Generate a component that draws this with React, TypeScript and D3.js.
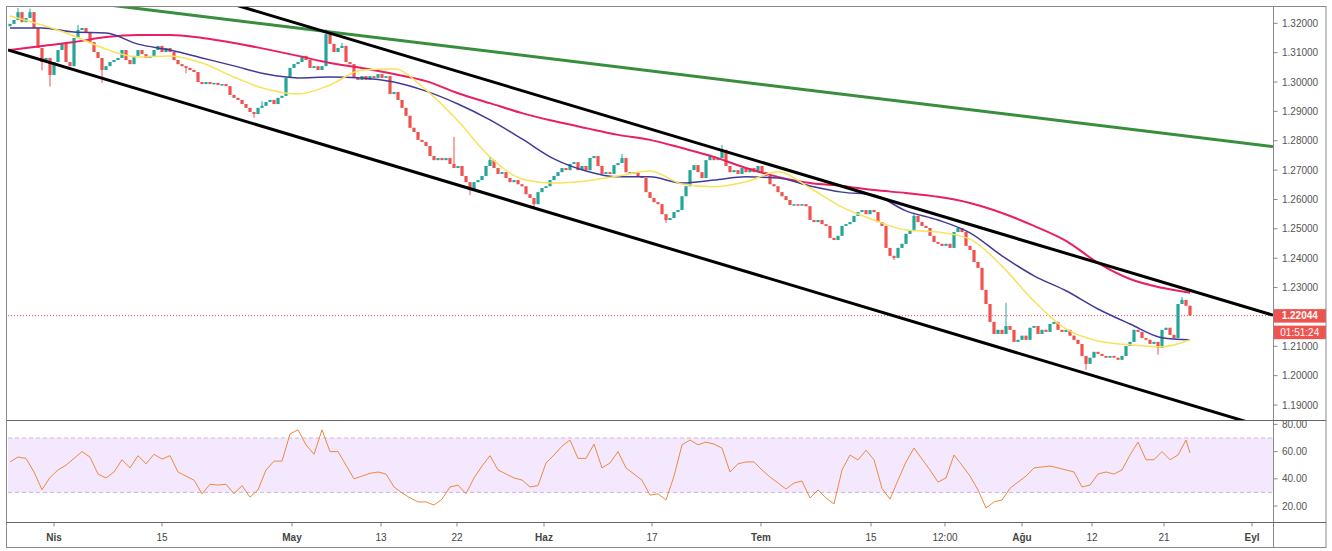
import * as d3 from 'd3'

// 4H closes, in pips (price * 10000)
const CLOSES = [
  13198, 13211, 13238, 13204, 13218, 13238, 13184, 13116, 13068, 13082,
  13024, 13068, 13109, 13130, 13068, 13054, 13150, 13177, 13184, 13170,
  13136, 13102, 13082, 13041, 13054, 13068, 13075, 13082, 13109, 13075,
  13061, 13089, 13109, 13095, 13082, 13089, 13109, 13123, 13102, 13116,
  13102, 13075, 13061, 13054, 13048, 13041, 13034, 13000, 12993, 13000,
  12993, 12997, 12990, 12993, 12986, 12956, 12946, 12939, 12925, 12912,
  12898, 12891, 12912, 12919, 12932, 12939, 12925, 12946, 12953, 13014,
  13048, 13061, 13068, 13089, 13075, 13048, 13054, 13041, 13054, 13163,
  13130, 13102, 13116, 13123, 13068, 13061, 13014, 13007, 13020, 13007,
  13020, 13014, 13027, 13014, 13020, 12959, 12966, 12939, 12912, 12885,
  12844, 12830, 12803, 12796, 12782, 12748, 12734, 12741, 12734, 12741,
  12721, 12707, 12714, 12680, 12659, 12632, 12659, 12666, 12680, 12714,
  12734, 12707, 12687, 12693, 12673, 12659, 12666, 12652, 12645, 12618,
  12605, 12584, 12625, 12639, 12645, 12666, 12680, 12693, 12707, 12700,
  12721, 12727, 12700, 12714, 12700, 12741, 12748, 12714, 12687, 12693,
  12687, 12717, 12724, 12741, 12693, 12687, 12693, 12680, 12673, 12625,
  12605, 12591, 12584, 12550, 12530, 12537, 12557, 12564, 12611, 12645,
  12700, 12717, 12693, 12673, 12734, 12748, 12734, 12741, 12769, 12714,
  12693, 12700, 12687, 12707, 12693, 12707, 12693, 12714, 12693, 12680,
  12652, 12645, 12625, 12611, 12598, 12581, 12584, 12581, 12584, 12577,
  12530, 12523, 12530, 12516, 12510, 12469, 12462, 12476, 12510, 12516,
  12523, 12544, 12557, 12564, 12550, 12564, 12557, 12523, 12510, 12435,
  12408, 12401, 12435, 12449, 12483, 12496, 12544, 12523, 12510, 12503,
  12476, 12455, 12449, 12442, 12449, 12435, 12489, 12503, 12489, 12442,
  12428, 12387, 12367, 12292, 12244, 12183, 12142, 12156, 12142, 12169,
  12156, 12115, 12122, 12136, 12122, 12163, 12169, 12142, 12156, 12149,
  12176, 12183, 12156, 12149, 12156, 12136, 12122, 12108, 12067, 12040,
  12061, 12081, 12074, 12067, 12061, 12067, 12061, 12054, 12067, 12101,
  12115, 12156, 12149, 12128, 12122, 12108, 12115, 12095, 12156, 12163,
  12139, 12128, 12244, 12258, 12238, 12204.4,
]
const FIRST_OPEN = 13190

// long wicks [bar, price in pips]
const WICK_HIGHS = [
  [2, 13252], [5, 13250], [17, 13195], [63, 12935], [79, 13180], [83, 13133],
  [111, 12813], [120, 12745], [153, 12755], [178, 12786], [226, 12555],
  [249, 12248], [293, 12268],
]
const WICK_LOWS = [
  [8, 13040], [10, 12985], [23, 12997], [44, 13030], [61, 12878], [115, 12615],
  [131, 12571], [164, 12520], [221, 12394], [269, 12020], [287, 12071],
]

// moving averages sampled every 8 bars
const MA_BARS = [
  0, 8, 16, 24, 32, 40, 48, 56, 64, 72, 80, 88, 96, 104, 112, 120, 128, 136,
  144, 152, 160, 168, 176, 184, 192, 200, 208, 216, 224, 232, 240, 248, 256,
  264, 272, 280, 288, 295,
]
const MA_FAST = [
  13225, 13194, 13157, 13112, 13085, 13089, 13065, 13017, 12976, 12959, 12990,
  13041, 13044, 12973, 12867, 12745, 12670, 12656, 12663, 12680, 12697, 12653,
  12643, 12660, 12694, 12639, 12574, 12530, 12496, 12489, 12465, 12373, 12254,
  12159, 12118, 12105, 12098, 12122,
]
const MA_MID = [
  13184, 13184, 13170, 13167, 13129, 13109, 13082, 13055, 13027, 13014, 13017,
  13014, 13000, 12969, 12925, 12871, 12806, 12738, 12697, 12677, 12677, 12656,
  12666, 12677, 12673, 12646, 12625, 12615, 12561, 12530, 12486, 12408, 12340,
  12289, 12227, 12176, 12129, 12122,
]
const MA_SLOW = [
  13109, 13123, 13136, 13153, 13160, 13160, 13150, 13133, 13112, 13089, 13065,
  13048, 13027, 13003, 12962, 12928, 12894, 12867, 12843, 12820, 12803, 12775,
  12745, 12707, 12677, 12656, 12646, 12632, 12622, 12609, 12588, 12554, 12510,
  12459, 12384, 12329, 12299, 12282,
]

// RSI(14), sampled every 2 bars, last one at bar 295
const RSI = [
  52.4, 56, 55, 45, 32, 41, 46.5, 50, 55, 60, 56, 43.5, 40.6, 45, 54, 48, 57, 51,
  58, 54.5, 57, 45, 42, 39, 29, 36, 35.4, 36, 29, 35, 26.6, 31.8, 46.5, 53, 53,
  73, 76, 65, 58, 76, 60, 60, 50, 40, 42, 44, 45, 43.5, 34, 29.6, 26, 23, 23,
  20.7, 25, 34, 35.4, 29, 40.6, 49.4, 57, 46.5, 43.5, 40.6, 39.1, 34, 35, 51.6,
  57.5, 64, 68.5, 55, 55, 65.5, 48, 51.6, 60, 48, 43.5, 39, 28, 29, 24.4, 42,
  65, 68.5, 65, 67, 65.5, 62.6, 45, 51, 52.4, 52.4, 46.5, 41.3, 36.9, 32.5,
  36.9, 38.4, 25.9, 31.8, 25.9, 21.5, 46.5, 57.5, 53.8, 61, 54, 33, 25, 39,
  52.4, 62.6, 54.5, 46.5, 37.6, 40.6, 57.5, 50, 42, 31.8, 18.5, 23, 24.4, 33,
  37.6, 42, 48, 48.7, 49.4, 48, 46.5, 45, 34, 35.4, 43.5, 45, 43.5, 46.5, 57.5,
  67, 54, 54, 60, 54, 57.5, 68.5, 59,
]

// trend lines [bar, pips]
const GREEN_LINE = [[22.5, 13266], [315.75, 12780]]
const UPPER_LINE = [[55, 13268], [315.75, 12206]]
const LOWER_LINE = [[-0.5, 13109], [315.75, 11816]]

const PRICE_TICKS = [1.19, 1.2, 1.21, 1.22, 1.23, 1.24, 1.25, 1.26, 1.27, 1.28, 1.29, 1.3, 1.31, 1.32]
const RSI_TICKS = [20, 40, 60, 80]
const TIME_TICKS = [
  { bar: 11, label: 'Nis', bold: true },
  { bar: 38, label: '15' },
  { bar: 70.5, label: 'May', bold: true },
  { bar: 92.75, label: '13' },
  { bar: 111.75, label: '22' },
  { bar: 133.5, label: 'Haz', bold: true },
  { bar: 160.5, label: '17' },
  { bar: 187.75, label: 'Tem', bold: true },
  { bar: 215.25, label: '15' },
  { bar: 233.75, label: '12:00' },
  { bar: 253, label: 'Ağu', bold: true },
  { bar: 270.5, label: '12' },
  { bar: 288.5, label: '21' },
  { bar: 310.5, label: 'Eyl', bold: true },
]
const LAST_PRICE = '1.22044'
const COUNTDOWN = '01:51:24'

const UP = '#26a69a'
const DOWN = '#ef5350'
const FONT = 'Liberation Sans, Arial, sans-serif'

export default function App() {
  const left = 8
  const axisX = 1273.5
  const right = 1326
  const top = 6.5
  const mainBottom = 420.5
  const rsiBottom = 522.5
  const bottom = 547.5

  const x = d3.scaleLinear().domain([-0.5, 315.75]).range([left, 1273])
  const y = d3.scaleLinear().domain([1.19, 1.32]).range([405, 23.3])
  const yr = d3.scaleLinear().domain([20, 80]).range([506, 424.4])
  const p = (v: number) => v / 10000

  const highMap = new Map(WICK_HIGHS.map(([b, v]) => [b, v]))
  const lowMap = new Map(WICK_LOWS.map(([b, v]) => [b, v]))

  const candles = CLOSES.map((c, i) => {
    const o = i === 0 ? FIRST_OPEN : CLOSES[i - 1]
    const hi = highMap.get(i) ?? Math.max(o, c)
    const lo = lowMap.get(i) ?? Math.min(o, c)
    return { i, o, c, hi, lo }
  })

  const maLine = d3
    .line<number>()
    .x((_, k) => x(MA_BARS[k]))
    .y((v) => y(p(v)))
    .curve(d3.curveMonotoneX)

  const rsiBars = RSI.map((_, k) => (k === RSI.length - 1 ? 295 : k * 2))
  const rsiLine = d3
    .line<number>()
    .x((_, k) => x(rsiBars[k]))
    .y((v) => yr(v))

  const trend = (pts: number[][]) =>
    d3
      .line<number[]>()
      .x((d) => x(d[0]))
      .y((d) => y(p(d[1])))(pts) as string

  const lastY = y(p(CLOSES[CLOSES.length - 1]))

  return (
    <svg
      width={1332}
      height={551}
      style={{ position: 'absolute', left: 0, top: 0, background: '#fff' }}
      fontFamily={FONT}
    >
      <defs>
        <clipPath id="main">
          <rect x={left} y={top} width={axisX - left} height={mainBottom - top} />
        </clipPath>
        <clipPath id="rsi">
          <rect x={left} y={mainBottom} width={right - left} height={rsiBottom - mainBottom} />
        </clipPath>
      </defs>

      {/* main pane */}
      <g clipPath="url(#main)">
        <line
          x1={left}
          x2={axisX}
          y1={lastY}
          y2={lastY}
          stroke={DOWN}
          strokeWidth={1}
          strokeDasharray="1,2"
        />
        {candles.map((d) => {
          const col = d.c >= d.o ? UP : DOWN
          const cx = x(d.i)
          const y1 = y(p(Math.max(d.o, d.c)))
          const y2 = y(p(Math.min(d.o, d.c)))
          return (
            <g key={d.i}>
              <line x1={cx} x2={cx} y1={y(p(d.hi))} y2={y(p(d.lo))} stroke={col} strokeWidth={1} />
              <rect x={cx - 1.6} y={y1} width={3.2} height={Math.max(1.5, y2 - y1)} fill={col} />
            </g>
          )
        })}
        <path d={maLine(MA_SLOW) as string} fill="none" stroke="#e91e63" strokeWidth={2} />
        <path d={maLine(MA_MID) as string} fill="none" stroke="#3f3a9a" strokeWidth={1.5} />
        <path d={maLine(MA_FAST) as string} fill="none" stroke="#f7e35a" strokeWidth={1.5} />
        <path d={trend(GREEN_LINE)} fill="none" stroke="#388e3c" strokeWidth={3} />
        <path d={trend(UPPER_LINE)} fill="none" stroke="#000" strokeWidth={3} />
        <path d={trend(LOWER_LINE)} fill="none" stroke="#000" strokeWidth={3} />
      </g>

      {/* RSI pane */}
      <g clipPath="url(#rsi)">
        <rect
          x={left}
          y={yr(70)}
          width={axisX - left}
          height={yr(30) - yr(70)}
          fill="#f3e8fd"
        />
        {[70, 30].map((v) => (
          <line
            key={v}
            x1={left}
            x2={axisX}
            y1={yr(v)}
            y2={yr(v)}
            stroke="#c9b7dc"
            strokeDasharray="4,3"
          />
        ))}
        <path d={rsiLine(RSI) as string} fill="none" stroke="#f0883e" strokeWidth={1} />
        {RSI_TICKS.map((v) => (
          <g key={v}>
            <line x1={axisX} x2={axisX + 4} y1={yr(v)} y2={yr(v)} stroke="#888" />
            <text x={1282} y={yr(v)} dy="0.35em" fontSize={10} fill="#555">
              {v.toFixed(2)}
            </text>
          </g>
        ))}
      </g>

      {/* price axis */}
      {PRICE_TICKS.map((v) => (
        <g key={v}>
          <line x1={axisX} x2={axisX + 4} y1={y(v)} y2={y(v)} stroke="#888" />
          <text x={1282} y={y(v)} dy="0.35em" fontSize={10} fill="#555">
            {v.toFixed(5)}
          </text>
        </g>
      ))}
      <rect x={axisX} y={lastY - 6.5} width={right - axisX} height={13.5} fill={DOWN} />
      <text
        x={(axisX + right) / 2}
        y={lastY}
        dy="0.36em"
        fontSize={10}
        fill="#fff"
        fontWeight="bold"
        textAnchor="middle"
      >
        {LAST_PRICE}
      </text>
      <rect x={axisX} y={lastY + 10} width={right - axisX} height={13.5} fill={DOWN} />
      <text
        x={(axisX + right) / 2}
        y={lastY + 16.75}
        dy="0.36em"
        fontSize={10}
        fill="#fff"
        textAnchor="middle"
      >
        {COUNTDOWN}
      </text>

      {/* time axis */}
      {TIME_TICKS.map((t) => (
        <g key={t.label + t.bar}>
          <line x1={x(t.bar)} x2={x(t.bar)} y1={rsiBottom} y2={rsiBottom + 4} stroke="#888" />
          <text
            x={x(t.bar)}
            y={537}
            dy="0.35em"
            fontSize={10}
            fill="#444"
            textAnchor="middle"
            fontWeight={t.bold ? 'bold' : 'normal'}
          >
            {t.label}
          </text>
        </g>
      ))}

      {/* frame */}
      <rect x={6.5} y={top} width={right - 6.5} height={bottom - top} fill="none" stroke="#8a8a8a" />
      <line x1={axisX} x2={axisX} y1={top} y2={bottom} stroke="#8a8a8a" />
      <line x1={6.5} x2={right} y1={mainBottom} y2={mainBottom} stroke="#666" />
      <line x1={6.5} x2={right} y1={rsiBottom} y2={rsiBottom} stroke="#666" />
    </svg>
  )
}
